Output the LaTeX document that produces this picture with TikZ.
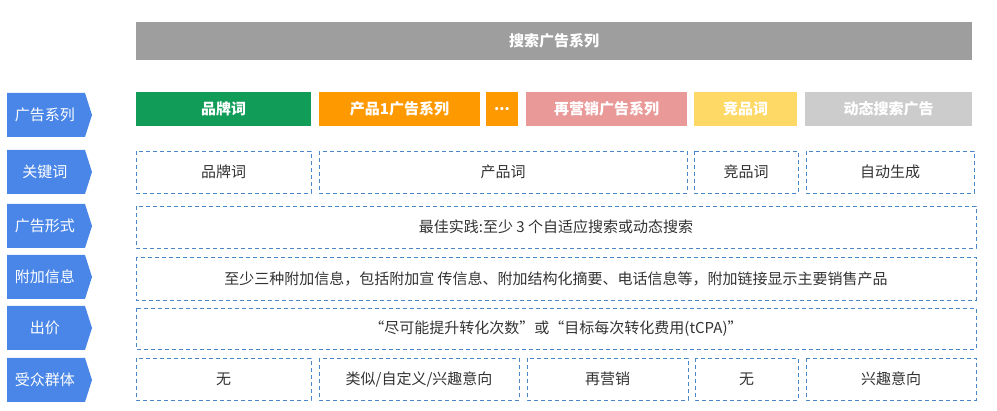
\documentclass[tikz,border=0pt]{standalone}
\usepackage{fontspec}
\setmainfont{Noto Sans CJK SC}
\begin{document}
\begin{tikzpicture}[x=1pt,y=-1pt,
  bar/.style={draw=none,text=white,font=\fontsize{15}{17}\selectfont\bfseries},
  dbox/.style={draw=dashblue,line width=0.9pt,dash pattern=on 4pt off 3pt},
]
\definecolor{labblue}{HTML}{4A86E8}
\definecolor{dashblue}{HTML}{4A86C5}
\definecolor{txt}{HTML}{333333}
\definecolor{cgreen}{HTML}{119C58}
\definecolor{corange}{HTML}{FF9900}
\definecolor{cpink}{HTML}{EA9999}
\definecolor{cyellow}{HTML}{FFD966}
\definecolor{cgray}{HTML}{CCCCCC}
\definecolor{tgray}{HTML}{9E9E9E}
\useasboundingbox (0,0) rectangle (997,411);
% top bar
\fill[tgray] (136,22) rectangle (972,60);
\node[bar] (top) at (554,41) {搜索广告系列};
% labels
\foreach \n/\a/\b/\t in {l1/93/137/广告系列,l2/150/194/关键词,l3/204/248/广告形式,l4/255/299/附加信息,l5/306/350/出价,l6/358/402/受众群体}{
  \fill[labblue] (7,\a) -- (85,\a) -- (92,{(\a+\b)/2}) -- (85,\b) -- (7,\b) -- cycle;
  \node[text=white,font=\fontsize{15}{17}\selectfont] (\n) at (45,{(\a+\b)/2}) {\t};
}
% colored bars
\foreach \n/\x/\X/\c/\t in {c1/136/311/cgreen/品牌词,c2/319/480/corange/产品1广告系列,c3/486/518/corange/{...},c4/526/687/cpink/再营销广告系列,c5/694/797/cyellow/竞品词,c6/805/972/cgray/动态搜索广告}{
  \fill[\c] (\x,92) rectangle (\X,126);
  \node[bar] (\n) at ({(\x+\X)/2},109) {\t};
}
% dashed boxes
\foreach \n/\x/\X/\a/\b/\t in {
 k1/136/311/151/193/品牌词, k2/319/687/151/193/产品词, k3/694/798/151/193/竞品词, k4/806/974/151/193/自动生成,
 f1/136/976/206/248/{最佳实践:至少 3 个自适应搜索或动态搜索},
 e1/136/976/257/300/{至少三种附加信息，包括附加宣 传信息、附加结构化摘要、电话信息等，附加链接显示主要销售产品},
 p1/136/976/308/349/{“尽可能提升转化次数”或“目标每次转化费用(tCPA)”},
 a1/136/311/358/400/无, a2/319/519/358/400/{类似/自定义/兴趣意向}, a3/527/688/358/400/再营销, a4/695/798/358/400/无, a5/806/976/358/400/兴趣意向}{
  \draw[dbox] (\x,\a) rectangle (\X,\b);
  \node[text=txt,font=\fontsize{15}{17}\selectfont] (\n) at ({(\x+\X)/2},{(\a+\b)/2}) {\t};
}
\end{tikzpicture}
\end{document}
